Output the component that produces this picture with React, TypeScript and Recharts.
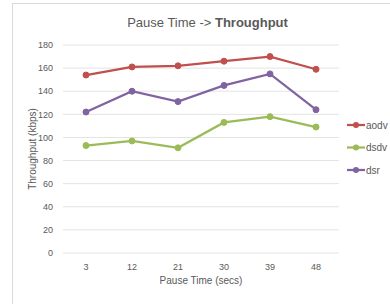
import { LineChart, Line, XAxis, YAxis, CartesianGrid, Legend } from "recharts";

const pauseTimes = ["3", "12", "21", "30", "39", "48"];
const aodv = [154, 161, 162, 166, 170, 159];
const dsdv = [93, 97, 91, 113, 118, 109];
const dsr = [122, 140, 131, 145, 155, 124];
const yTicks = [0, 20, 40, 60, 80, 100, 120, 140, 160, 180];

const seriesList = [
  { key: "aodv", color: "#c0504d" },
  { key: "dsdv", color: "#9bbb59" },
  { key: "dsr", color: "#8064a2" },
];

const data = pauseTimes.map((t, i) => ({
  time: t,
  aodv: aodv[i],
  dsdv: dsdv[i],
  dsr: dsr[i],
}));

const FONT = "'Liberation Sans', Arial, sans-serif";
const TEXT = "#595959";

function LegendBox() {
  return (
    <svg width={60} height={70}>
      {seriesList.map((s, i) => {
        const y = 11 + i * 22.5;
        return (
          <g key={s.key}>
            <line x1={0} x2={18} y1={y} y2={y} stroke={s.color} strokeWidth={2.25} />
            <circle cx={9} cy={y} r={3} fill={s.color} />
            <text x={19} y={y} dominantBaseline="central" fontSize={10} fill={TEXT} fontFamily={FONT}>
              {s.key}
            </text>
          </g>
        );
      })}
    </svg>
  );
}

export default function App() {
  return (
    <div
      style={{
        position: "fixed",
        left: 0,
        top: 0,
        width: 390,
        height: 304,
        overflow: "hidden",
        background: "#fff",
        fontFamily: FONT,
      }}
    >
      <div
        style={{
          position: "absolute",
          left: 12,
          top: 3,
          width: 420,
          height: 330,
          border: "1px solid #d9d9d9",
        }}
      />
      <div
        style={{
          position: "absolute",
          left: 0,
          top: 14,
          width: 415,
          textAlign: "center",
          fontSize: 13,
          lineHeight: "18px",
          color: TEXT,
        }}
      >
        Pause Time -&gt; <b>Throughput</b>
      </div>
      <div style={{ position: "absolute", left: 0, top: 0 }}>
        <LineChart
          width={400}
          height={304}
          data={data}
          margin={{ top: 45, right: 13, bottom: 0, left: 13 }}
        >
          <CartesianGrid vertical={false} stroke="#e3e3e3" />
          <XAxis
            dataKey="time"
            scale="band"
            height={51}
            axisLine={false}
            tickLine={false}
            tickMargin={5}
            tick={{ fontSize: 9, fill: TEXT, fontFamily: FONT }}
            label={{
              value: "Pause Time (secs)",
              position: "insideTop",
              offset: 24,
              fontSize: 10,
              fill: TEXT,
              fontFamily: FONT,
            }}
          />
          <YAxis
            width={50}
            domain={[0, 180]}
            ticks={yTicks}
            axisLine={false}
            tickLine={false}
            tickMargin={4}
            tick={{ fontSize: 9, fill: TEXT, fontFamily: FONT }}
            label={{
              value: "Throughput (kbps)",
              angle: -90,
              position: "insideLeft",
              offset: 19,
              fontSize: 10,
              fill: TEXT,
              fontFamily: FONT,
              style: { textAnchor: "middle" },
            }}
          />
          <Legend
            layout="vertical"
            align="right"
            verticalAlign="middle"
            width={48}
            wrapperStyle={{ top: 114, left: 347 }}
            content={() => <LegendBox />}
          />
          {seriesList.map((s) => (
            <Line
              key={s.key}
              dataKey={s.key}
              stroke={s.color}
              strokeWidth={2.25}
              dot={{ r: 3, fill: s.color, stroke: s.color, strokeWidth: 1 }}
              type="linear"
              isAnimationActive={false}
            />
          ))}
        </LineChart>
      </div>
    </div>
  );
}
